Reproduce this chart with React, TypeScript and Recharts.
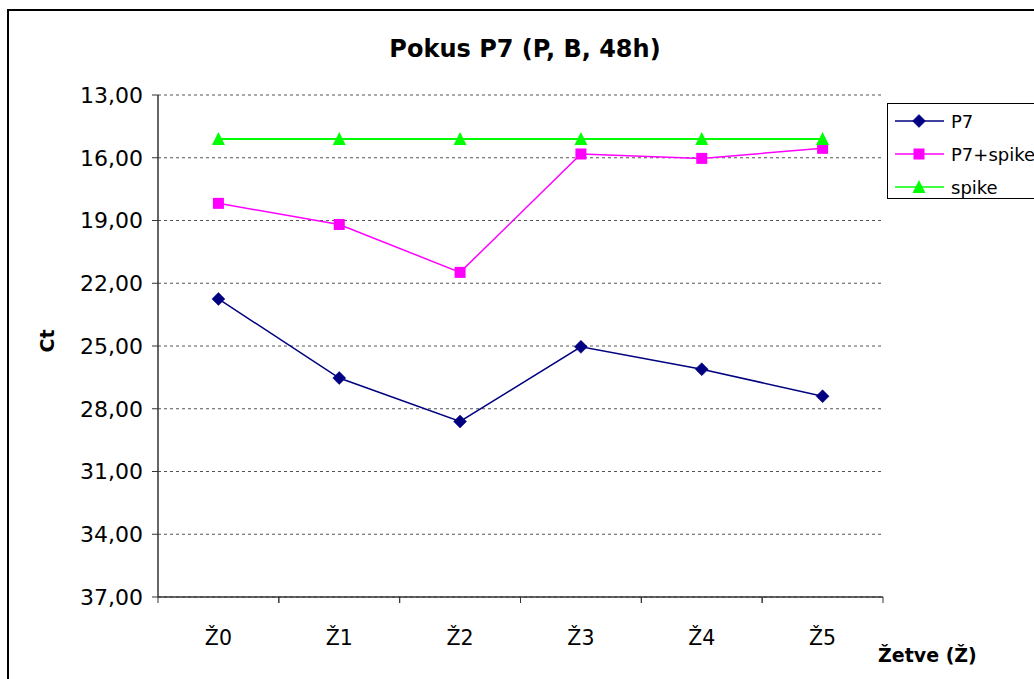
import React from 'react';
import { LineChart, Line, XAxis, YAxis, CartesianGrid, Label } from 'recharts';

const categories = ['Ž0', 'Ž1', 'Ž2', 'Ž3', 'Ž4', 'Ž5'];
const p7Values = [22.75, 26.53, 28.61, 25.04, 26.11, 27.4];
const p7SpikeValues = [18.18, 19.19, 21.48, 15.82, 16.03, 15.55];
const spikeValues = [15.1, 15.1, 15.1, 15.1, 15.1, 15.1];
const yTicks = [13, 16, 19, 22, 25, 28, 31, 34, 37];
const seriesNames = ['P7', 'P7+spike', 'spike'];

const data = categories.map((c, i) => ({
  cat: c,
  p7: p7Values[i],
  p7spike: p7SpikeValues[i],
  spike: spikeValues[i],
}));

const FONT = '"DejaVu Sans", "Liberation Sans", sans-serif';
const W = 1034;
const H = 679;
const PLOT_LEFT = 158;
const PLOT_RIGHT = 883;
const PLOT_TOP = 95;
const PLOT_BOTTOM = 597;
const BW = (PLOT_RIGHT - PLOT_LEFT) / categories.length;

const NAVY = '#000080';
const MAGENTA = '#FF00FF';
const GREEN = '#00FF00';
const AXIS = '#333333';

const Diamond = ({ cx, cy }: any) =>
  cx == null ? null : (
    <polygon points={`${cx},${cy - 6.5} ${cx + 6.5},${cy} ${cx},${cy + 6.5} ${cx - 6.5},${cy}`} fill={NAVY} stroke={NAVY} strokeWidth={0.5} />
  );
const Square = ({ cx, cy }: any) =>
  cx == null ? null : <rect x={cx - 5.5} y={cy - 5.5} width={11} height={11} fill={MAGENTA} />;
const Triangle = ({ cx, cy }: any) =>
  cx == null ? null : (
    <polygon points={`${cx},${cy - 7} ${cx + 6.5},${cy + 6} ${cx - 6.5},${cy + 6}`} fill={GREEN} />
  );

const XTick = (props: any) => {
  const { x, payload } = props;
  return (
    <g>
      <line x1={x - BW / 2} x2={x - BW / 2} y1={PLOT_BOTTOM} y2={PLOT_BOTTOM + 6} stroke={AXIS} />
      <line x1={x + BW / 2} x2={x + BW / 2} y1={PLOT_BOTTOM} y2={PLOT_BOTTOM + 6} stroke={AXIS} />
      <text x={x} y={645} textAnchor="middle" fontSize={20.5} fontFamily={FONT} fill="#000">
        {payload.value}
      </text>
    </g>
  );
};

const fmt = (v: number) => v.toFixed(2).replace('.', ',');

export default function App() {
  return (
    <div style={{ position: 'absolute', left: 0, top: 0, width: W, height: H, overflow: 'hidden', background: '#fff' }}>
      <div
        style={{
          position: 'absolute',
          left: 7,
          top: 9,
          width: 1200,
          height: 900,
          border: '2px solid #000',
          boxSizing: 'border-box',
        }}
      />
      <div style={{ position: 'absolute', left: 0, top: 0 }}>
        <LineChart width={W} height={H} data={data} margin={{ top: PLOT_TOP, right: W - PLOT_RIGHT, bottom: 0, left: 0 }}>
          <CartesianGrid horizontal vertical={false} stroke="#555" strokeDasharray="3 3" />
          <XAxis
            dataKey="cat"
            height={H - PLOT_BOTTOM}
            padding={{ left: BW / 2, right: BW / 2 }}
            axisLine={{ stroke: AXIS, strokeWidth: 1.5 }}
            tickLine={false}
            tick={<XTick />}
            interval={0}
          >
            <Label
              content={() => (
                <text x={878} y={662} fontSize={19} fontWeight="bold" fontFamily={FONT} fill="#000">
                  Žetve (Ž)
                </text>
              )}
            />
          </XAxis>
          <YAxis
            type="number"
            domain={[13, 37]}
            reversed
            ticks={yTicks}
            interval={0}
            width={PLOT_LEFT}
            tickFormatter={fmt}
            tickSize={6}
            tickMargin={9}
            axisLine={{ stroke: AXIS, strokeWidth: 1.5 }}
            tickLine={{ stroke: AXIS }}
            tick={{ fontSize: 22, fill: '#000', fontFamily: FONT }}
          >
            <Label
              content={() => (
                <text
                  x={54}
                  y={341}
                  transform="rotate(-90 54 341)"
                  textAnchor="middle"
                  fontSize={19}
                  fontWeight="bold"
                  fontFamily={FONT}
                  fill="#000"
                >
                  Ct
                </text>
              )}
            />
          </YAxis>
          <YAxis
            yAxisId="right"
            orientation="right"
            type="number"
            domain={[13, 37]}
            reversed
            width={0}
            tick={false}
            tickLine={false}
            axisLine={{ stroke: AXIS, strokeWidth: 1.5 }}
          />
          <Line dataKey="p7" name={seriesNames[0]} stroke={NAVY} strokeWidth={1.5} dot={<Diamond />} isAnimationActive={false} />
          <Line dataKey="p7spike" name={seriesNames[1]} stroke={MAGENTA} strokeWidth={1.5} dot={<Square />} isAnimationActive={false} />
          <Line dataKey="spike" name={seriesNames[2]} stroke={GREEN} strokeWidth={2} dot={<Triangle />} isAnimationActive={false} />
        </LineChart>
      </div>
      <svg width={W} height={H} style={{ position: 'absolute', left: 0, top: 0, pointerEvents: 'none' }}>
        <text x={525} y={57} textAnchor="middle" fontSize={24} fontWeight="bold" fontFamily={FONT} fill="#000">
          Pokus P7 (P, B, 48h)
        </text>
        <rect x={887.5} y={103.5} width={200} height={95} fill="#fff" stroke="#000" strokeWidth={1} />
        {[
          { name: seriesNames[0], color: NAVY, y: 121, Mk: Diamond },
          { name: seriesNames[1], color: MAGENTA, y: 154, Mk: Square },
          { name: seriesNames[2], color: GREEN, y: 187, Mk: Triangle },
        ].map((e) => (
          <g key={e.name}>
            <line x1={895} x2={944} y1={e.y} y2={e.y} stroke={e.color} strokeWidth={1.5} />
            <e.Mk cx={919} cy={e.y} />
            <text x={951} y={e.y + 6.5} fontSize={18} fontFamily={FONT} fill="#000">
              {e.name}
            </text>
          </g>
        ))}
      </svg>
    </div>
  );
}
